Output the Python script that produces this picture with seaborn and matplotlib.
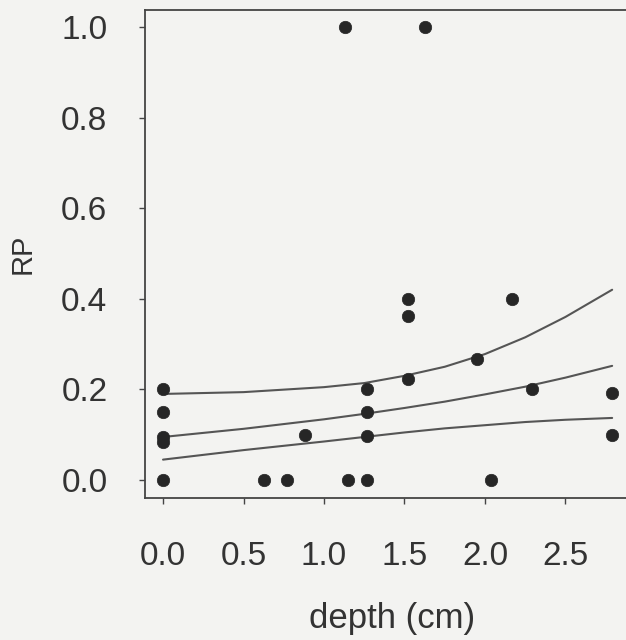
import matplotlib
matplotlib.use("Agg")
import matplotlib.pyplot as plt
import seaborn as sns
import pandas as pd

# observed points
depth = [0.0, 0.0, 0.0, 0.0, 0.0, 0.63, 0.77, 0.88, 1.13, 1.15, 1.27, 1.27, 1.27, 1.27,
         1.52, 1.52, 1.52, 1.63, 1.95, 2.04, 2.17, 2.29, 2.79, 2.79]
rp = [0.20, 0.15, 0.095, 0.085, 0.0, 0.0, 0.0, 0.10, 1.0, 0.0, 0.0, 0.20, 0.15, 0.097,
      0.40, 0.362, 0.223, 1.0, 0.267, 0.0, 0.40, 0.20, 0.192, 0.10]

# fitted curve and bounds
curve_x = [0.0, 0.5, 1.0, 1.25, 1.5, 1.75, 2.0, 2.25, 2.5, 2.79]
upper = [0.19, 0.194, 0.205, 0.214, 0.23, 0.25, 0.278, 0.315, 0.36, 0.42]
middle = [0.095, 0.113, 0.134, 0.146, 0.159, 0.173, 0.189, 0.206, 0.226, 0.252]
lower = [0.045, 0.066, 0.085, 0.095, 0.105, 0.114, 0.121, 0.128, 0.133, 0.137]

xticks = [0.0, 0.5, 1.0, 1.5, 2.0, 2.5]
yticks = [0.0, 0.2, 0.4, 0.6, 0.8, 1.0]

sns.set_style("ticks")
plt.rcParams['font.family'] = ['Liberation Sans', 'DejaVu Sans']

fig = plt.figure(figsize=(6.26, 6.4), dpi=100)
bg = "#f3f3f1"
fig.patch.set_facecolor(bg)
ax = fig.add_axes([145/626, 1 - 498/640, 1 - 145/626, (498 - 10)/640])
ax.set_facecolor(bg)

pts = pd.DataFrame({"depth": depth, "RP": rp})
curves = pd.DataFrame({"x": curve_x, "upper": upper, "middle": middle, "lower": lower})
for col in ["upper", "middle", "lower"]:
    sns.lineplot(data=curves, x="x", y=col, ax=ax, color="#555555", linewidth=1.5)
sns.scatterplot(data=pts, x="depth", y="RP", ax=ax, color="#262626", s=80,
                edgecolor="#262626", linewidth=0.5, zorder=5)

ax.set_xlim(-0.112, 2.876)
ax.set_ylim(-0.0397, 1.0375)
ax.set_xticks(xticks)
ax.set_yticks(yticks)
ax.set_xticklabels([f"{v:.1f}" for v in xticks])
ax.set_yticklabels([f"{v:.1f}" for v in yticks])
ax.tick_params(axis="both", labelsize=24, length=4, width=1, color="#444444",
               labelcolor="#333333")
ax.tick_params(axis="y", pad=23)
ax.tick_params(axis="x", pad=27)
for s in ["left", "bottom", "top"]:
    ax.spines[s].set_color("#444444")
    ax.spines[s].set_linewidth(1.3)
ax.spines["right"].set_visible(False)
ax.set_xlabel("depth (cm)", fontsize=25, color="#333333")
ax.xaxis.set_label_coords(0.513, -0.213)
ax.xaxis.label.set_va("top")
ax.set_ylabel("RP", fontsize=21, color="#333333", labelpad=18)

fig.savefig("out.png", dpi=100, facecolor=bg)
